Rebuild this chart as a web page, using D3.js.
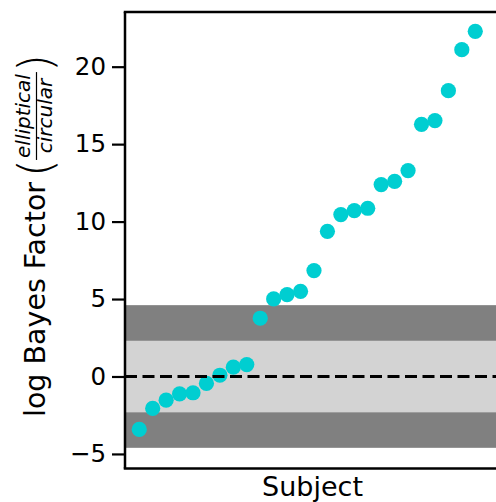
<!DOCTYPE html>
<html>
<head>
<meta charset="utf-8">
<script src="https://cdn.jsdelivr.net/npm/d3@7"></script>
<style>
  body { margin: 0; background: #fff; }
  svg { display: block; font-family: 'DejaVu Sans', sans-serif; }
</style>
</head>
<body>
<div id="chart"></div>
<script>
// log Bayes factor for each subject, sorted ascending
const subjects = d3.range(26);
const logBF = [-3.42, -2.06, -1.53, -1.12, -1.05, -0.45, 0.08, 0.6, 0.77,
               3.76, 5.01, 5.29, 5.5, 6.84, 9.37, 10.45, 10.71, 10.86,
               12.39, 12.6, 13.29, 16.28, 16.52, 18.45, 21.1, 22.28];

// evidence bands: ln(10) and ln(100)
const bandEdges = [Math.log(10), Math.log(100)];
const yTicks = [-5, 0, 5, 10, 15, 20];

const width = 496, height = 502;
const margin = {top: 12, right: -4, bottom: 33.5, left: 125};

const svg = d3.select('#chart').append('svg')
    .attr('width', width)
    .attr('height', height);

const xScale = d3.scaleLinear()
    .domain([-1.06, 26.84])
    .range([margin.left, width - margin.right]);

const yScale = d3.scaleLinear()
    .domain([-5.94, 23.53])
    .range([height - margin.bottom, margin.top]);

const x0 = xScale.range()[0], x1 = xScale.range()[1];

// Bands
const bands = [
    {lo: -bandEdges[1], hi: -bandEdges[0], fill: '#808080'},
    {lo: -bandEdges[0], hi: bandEdges[0], fill: '#d3d3d3'},
    {lo: bandEdges[0], hi: bandEdges[1], fill: '#808080'}
];
svg.selectAll('rect.band')
    .data(bands)
    .enter().append('rect')
    .attr('class', 'band')
    .attr('x', x0)
    .attr('width', x1 - x0)
    .attr('y', d => yScale(d.hi))
    .attr('height', d => yScale(d.lo) - yScale(d.hi))
    .style('fill', d => d.fill);

// Points
svg.selectAll('circle')
    .data(logBF)
    .enter().append('circle')
    .attr('cx', (d, i) => xScale(subjects[i]))
    .attr('cy', d => yScale(d))
    .attr('r', 7.6)
    .style('fill', '#00CED1');

// Zero line
svg.append('line')
    .attr('x1', x0).attr('x2', x1)
    .attr('y1', yScale(0)).attr('y2', yScale(0))
    .style('stroke', '#000')
    .style('stroke-width', 3)
    .style('stroke-dasharray', '12,5.5');

// y axis
const yAxis = d3.axisLeft(yScale)
    .tickValues(yTicks)
    .tickSize(13)
    .tickPadding(6)
    .tickFormat(d => d < 0 ? '\u2212' + Math.abs(d) : d);

let yAxisG = svg.append('g')
    .attr('transform', 'translate(' + x0 + ',0)')
    .call(yAxis);
yAxisG.select('.domain').remove();
yAxisG.selectAll('line').style('stroke', '#000').style('stroke-width', 2.2);
yAxisG.selectAll('text')
    .style('font-family', "'DejaVu Sans', sans-serif")
    .style('font-size', '24.5px')
    .style('fill', '#000');

// Spines
const spines = [
    [x0, yScale.range()[0], x0, yScale.range()[1]],
    [x0 - 1.25, yScale.range()[0], x1, yScale.range()[0]],
    [x0 - 1.25, yScale.range()[1], x1, yScale.range()[1]],
    [x1, yScale.range()[0], x1, yScale.range()[1]]
];
svg.selectAll('line.spine')
    .data(spines)
    .enter().append('line')
    .attr('class', 'spine')
    .attr('x1', d => d[0]).attr('y1', d => d[1])
    .attr('x2', d => d[2]).attr('y2', d => d[3])
    .style('stroke', '#000')
    .style('stroke-width', 2.5);

// x label
svg.append('text')
    .attr('x', (x0 + x1) / 2)
    .attr('y', 496)
    .attr('text-anchor', 'middle')
    .style('font-size', '27px')
    .text('Subject');

// y label with fraction
let lab = svg.append('g')
    .attr('transform', 'translate(45,417) rotate(-90)');

let mainText = lab.append('text')
    .attr('x', 0).attr('y', 0)
    .style('font-size', '28.5px')
    .text('log Bayes Factor');
let pos = mainText.node().getComputedTextLength() + 5;

let lp = lab.append('text')
    .attr('x', pos).attr('y', 6)
    .style('font-size', '46px')
    .style('font-weight', '200')
    .text('(');
pos += lp.node().getComputedTextLength() - 1;

let num = lab.append('text')
    .attr('y', -15)
    .attr('text-anchor', 'middle')
    .style('font-size', '20px')
    .style('font-style', 'italic')
    .text('elliptical');
let den = lab.append('text')
    .attr('y', 6.5)
    .attr('text-anchor', 'middle')
    .style('font-size', '20px')
    .style('font-style', 'italic')
    .text('circular');
let fw = Math.max(num.node().getComputedTextLength(), den.node().getComputedTextLength()) + 4;
num.attr('x', pos + fw / 2);
den.attr('x', pos + fw / 2);
lab.append('line')
    .attr('x1', pos).attr('x2', pos + fw)
    .attr('y1', -8.5).attr('y2', -8.5)
    .style('stroke', '#000')
    .style('stroke-width', 1.2);
pos += fw;

lab.append('text')
    .attr('x', pos).attr('y', 6)
    .style('font-size', '46px')
    .style('font-weight', '200')
    .text(')');
</script>
</body>
</html>
